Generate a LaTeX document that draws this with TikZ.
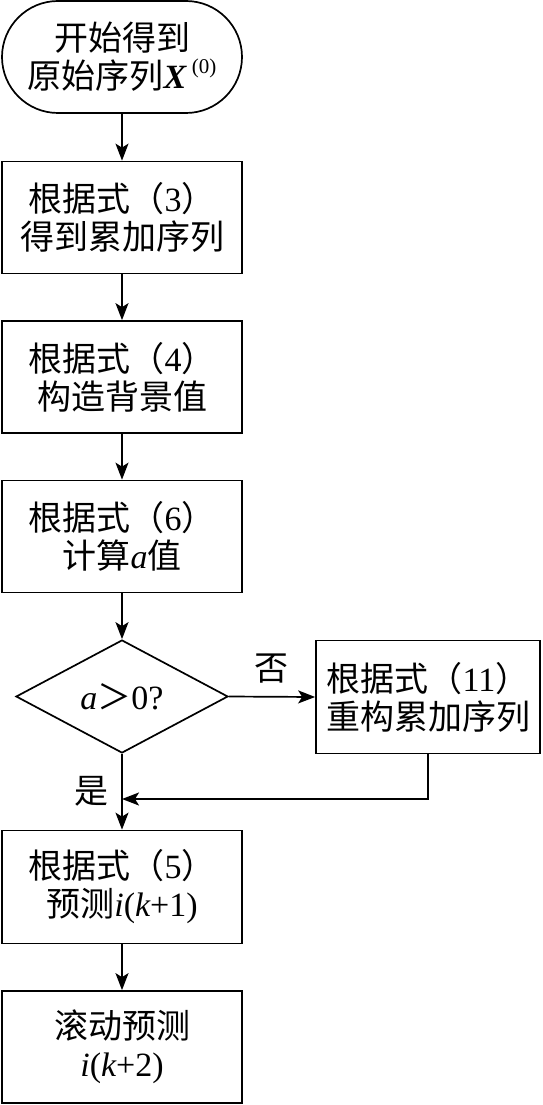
\documentclass[tikz,border=0pt]{standalone}
\usepackage{fontspec}
\setmainfont{Liberation Serif}
\newfontfamily\cjk{Noto Sans CJK SC}
\usetikzlibrary{shapes.geometric,arrows.meta}
\newcommand\lat[1]{{\rmfamily #1}}
\newcommand\latit[1]{{\rmfamily\itshape #1}}
\tikzset{
  txt/.style={font=\fontsize{34}{38}\selectfont\cjk, align=center, inner sep=0pt},
  stepbox/.style={txt, draw, line width=1.7pt, minimum width=240pt, minimum height=112pt},
  startbox/.style={stepbox, rounded corners=56pt},
  decision/.style={txt, draw, line width=1.7pt, diamond, shape aspect=1.88, minimum width=212pt, minimum height=113pt},
  flow/.style={line width=1.7pt, -{Stealth[length=17pt,width=13pt,inset=4pt]}},
  lbl/.style={txt}
}
\begin{document}
\begin{tikzpicture}[x=1pt,y=-1pt]
\useasboundingbox (0,0) rectangle (542,1105);
\node[startbox] (start) at (122,57) {开始得到\\原始序列{\rmfamily\bfseries\itshape X}\,\raisebox{15pt}{\rmfamily\fontsize{21}{21}\selectfont (0)}};
\node[stepbox] (b1) at (122,217.5) {根据式（\lat{3}）\\得到累加序列};
\node[stepbox] (b2) at (122,377) {根据式（\lat{4}）\\构造背景值};
\node[stepbox] (b3) at (122,536.5) {根据式（\lat{6}）\\计算\latit{a}值};
\node[decision] (dia) at (122,696.5) {\latit{a}＞\lat{0?}};
\node[stepbox, minimum width=224pt, minimum height=113pt] (r) at (428,697) {根据式（\lat{11}）\\重构累加序列};
\node[stepbox, minimum height=113pt] (b4) at (122,887) {根据式（\lat{5}）\\预测\latit{i}\lat{(}\latit{k}\lat{+1)}};
\node[stepbox] (b5) at (122,1047) {滚动预测\\\latit{i}\lat{(}\latit{k}\lat{+2)}};
\coordinate (m) at (122,799);
\node[lbl] (no) at (271,669) {否};
\node[lbl] (yes) at (91,791) {是};
\draw[flow] (start) -- (b1);
\draw[flow] (b1) -- (b2);
\draw[flow] (b2) -- (b3);
\draw[flow] (b3) -- (dia);
\draw[flow] (dia) -- (b4);
\draw[flow] (b4) -- (b5);
\draw[flow] (dia.east) -- (r.west);
\draw[flow] (r.south) |- (m);
\end{tikzpicture}
\end{document}
